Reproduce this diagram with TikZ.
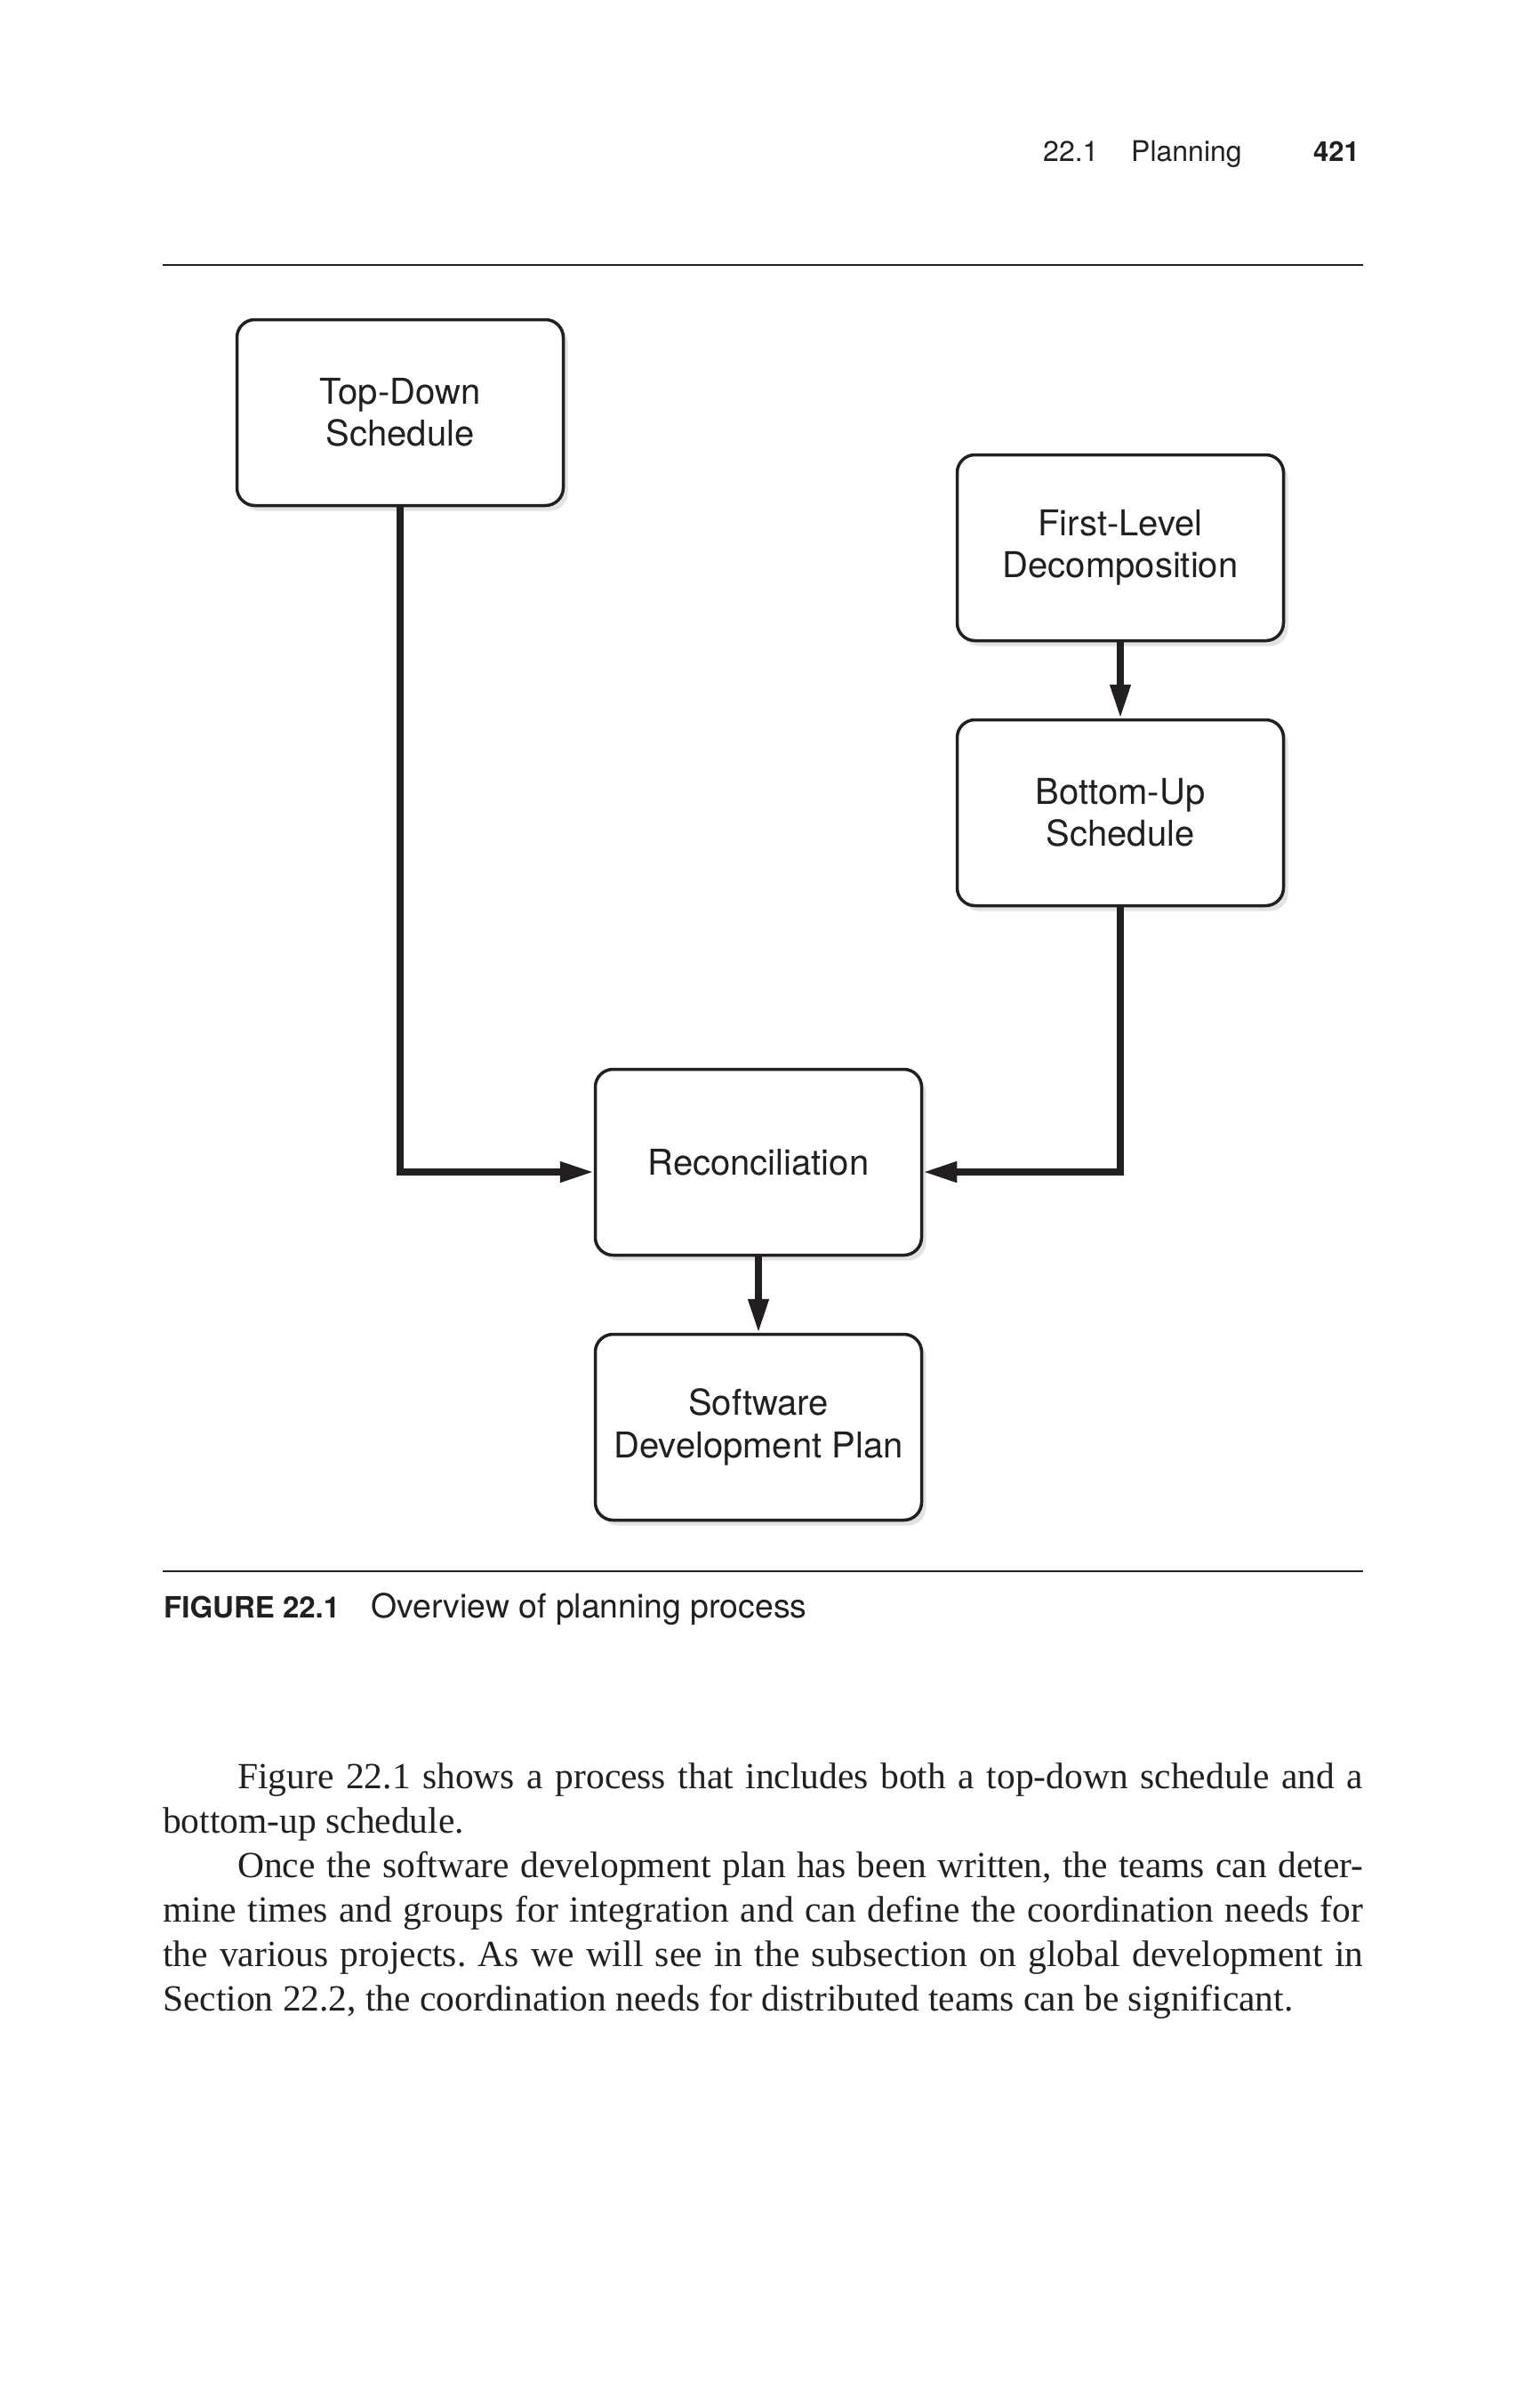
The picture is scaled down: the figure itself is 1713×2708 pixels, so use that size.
\documentclass[tikz,border=0pt]{standalone}
\usepackage{fontspec}
\setmainfont{Liberation Serif}
\setsansfont{TeX Gyre Heros}
\usepackage{xcolor}
\usepackage{tikz}
\usetikzlibrary{shapes.geometric, arrows, arrows.meta, positioning, shadows}
\definecolor{ink}{HTML}{231F20}
\tikzstyle{box} = [rectangle, rounded corners=20pt, minimum width=367pt, minimum height=209pt, draw=ink, line width=3.5pt, fill=white, text=ink, align=center, font=\sffamily\fontsize{40}{47.3}\selectfont, drop shadow={shadow xshift=5pt, shadow yshift=-6pt, opacity=0.22}]
\tikzstyle{arrow} = [draw=ink, line width=7.5pt, -{Triangle[length=38pt, width=22pt]}]
\tikzstyle{rule} = [draw=ink, line width=2.5pt]
\tikzstyle{hdr} = [inner sep=0pt, text=ink, anchor=base west, font=\sffamily\fontsize{32}{38}\selectfont]

\begin{document}
\begin{tikzpicture}[x=1pt, y=-1pt, node distance=298pt]
        \useasboundingbox (0,0) rectangle (1713,2708);
        \fill[white] (0,0) rectangle (1713,2708);

        % Running head
        \node (secnum) [hdr] at (1173,182) {22.1};
        \node (sectitle) [hdr] at (1272,182) {Planning};
        \node (pagenum) [hdr, anchor=base east, font=\sffamily\bfseries\fontsize{31}{38}\selectfont] at (1529,182) {421};
        \draw [rule] (183,298) -- (1533,298);

        % Boxes
        \node (topdown) [box] at (450,464) {Top-Down\\Schedule};
        \node (firstlevel) [box] at (1260,616) {First-Level\\Decomposition};
        \node (bottomup) [box, below of=firstlevel] {Bottom-Up\\Schedule};
        \node (recon) [box] at (853,1307) {Reconciliation};
        \node (plan) [box, below of=recon] {Software\\Development Plan};

        % Arrows
        \draw [arrow] (firstlevel) -- (bottomup);
        \draw [arrow] (topdown.south) |- ([yshift=-11pt]recon.west);
        \draw [arrow] (bottomup.south) |- ([yshift=-11pt]recon.east);
        \draw [arrow] (recon) -- (plan);

        % Caption
        \draw [rule] (183,1767) -- (1533,1767);
        \node (figlabel) [hdr, font=\sffamily\bfseries\fontsize{33}{40}\selectfont] at (184,1819) {FIGURE 22.1};
        \node (figtitle) [hdr, font=\sffamily\fontsize{37.4}{44}\selectfont] at (417,1819) {Overview of planning process};

        % Body text
        \node (bodytext) [inner sep=0pt, anchor=north west, text width=1350pt, align=justify, text=ink, font=\rmfamily\fontsize{41.5}{50}\selectfont] at (183,1982) {\tolerance=10000\hbadness=10000\frenchspacing
        \noindent\hspace*{84pt}Figure 22.1 shows a process that includes both a top-down schedule and a\linebreak
        bottom-up schedule.\par
        \noindent\hspace*{84pt}Once the software development plan has been written, the teams can deter-\linebreak
        mine times and groups for integration and can define the coordination needs for\linebreak
        the various projects. As we will see in the subsection on global development in\linebreak
        Section 22.2, the coordination needs for distributed teams can be significant.};
    \end{tikzpicture}
\end{document}
